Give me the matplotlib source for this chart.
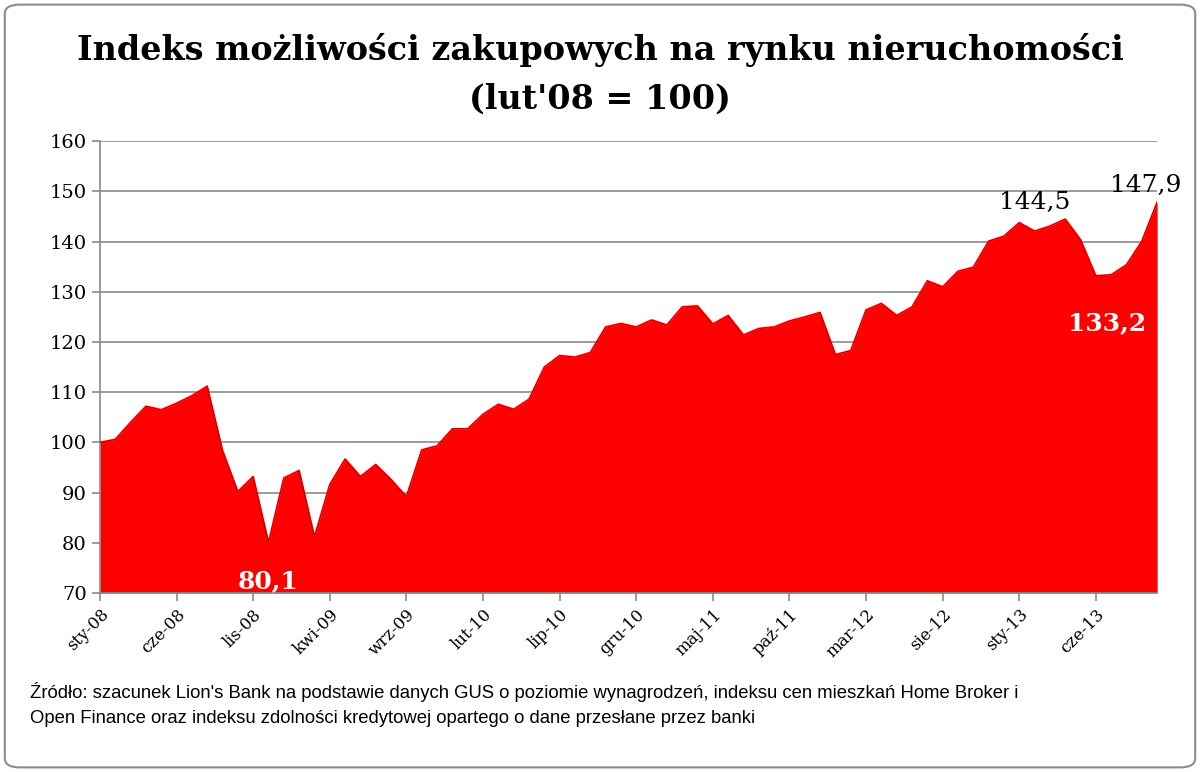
import matplotlib
matplotlib.use("Agg")
import matplotlib.pyplot as plt
from matplotlib.patches import FancyBboxPatch

# monthly index, sty-08 .. paź-13
VALUES = [
    100.0, 100.6, 104.0, 107.2, 106.5, 107.8, 109.3, 111.2, 98.4, 90.2,
    93.2, 80.1, 92.9, 94.4, 81.2, 91.6, 96.7, 93.2, 95.6, 92.6,
    89.2, 98.5, 99.3, 102.7, 102.7, 105.6, 107.6, 106.6, 108.6, 115.0,
    117.3, 117.0, 117.9, 123.0, 123.7, 123.0, 124.4, 123.4, 127.0, 127.2,
    123.6, 125.3, 121.4, 122.7, 123.0, 124.2, 125.0, 125.9, 117.5, 118.3,
    126.4, 127.7, 125.3, 127.0, 132.2, 131.0, 134.1, 134.9, 140.1, 141.1,
    143.8, 142.1, 143.1, 144.5, 140.4, 133.2, 133.4, 135.4, 140.1, 147.9,
]
TICK_LABELS = ["sty-08", "cze-08", "lis-08", "kwi-09", "wrz-09", "lut-10", "lip-10",
               "gru-10", "maj-11", "paź-11", "mar-12", "sie-12", "sty-13", "cze-13"]
TICK_STEP = 5
# (index, text, colour, offset in points)
ANNOTATIONS = [
    (11, "80,1", "white", (0, -28)),
    (63, "144,5", "black", (-22, 12)),
    (69, "147,9", "black", (-8, 12)),
    (65, "133,2", "white", (8, -34)),
]

fig = plt.figure(figsize=(12, 7.72), dpi=100)
fig.patches.append(FancyBboxPatch((0.004, 0.006), 0.992, 0.988,
                                  boxstyle="round,pad=0,rounding_size=0.012",
                                  transform=fig.transFigure, facecolor="white",
                                  edgecolor="#8c8c8c", linewidth=1.5, zorder=-5))
ax = fig.add_axes([0.0833, 0.232, 0.881, 0.585])
ax.set_facecolor("none")

x = list(range(len(VALUES)))
ax.fill_between(x, VALUES, 70, color="#ff0000", linewidth=0, zorder=2)
ax.plot(x, VALUES, color="#d40000", linewidth=1.2, zorder=3)

ax.set_xlim(0, len(VALUES) - 1)
ax.set_ylim(70, 160)
ax.set_yticks(range(70, 161, 10))
ax.yaxis.grid(True, color="#8a8a8a", linewidth=1.2, zorder=1)
ax.set_axisbelow(True)
ticks = list(range(0, len(VALUES), TICK_STEP))
ax.set_xticks(ticks)
ax.set_xticklabels(TICK_LABELS[:len(ticks)], rotation=45, ha="right",
                   rotation_mode="anchor", fontfamily="DejaVu Serif", fontsize=12)
for lab in ax.get_yticklabels():
    lab.set_fontfamily("DejaVu Serif")
    lab.set_fontsize(14)
for side in ("top", "right"):
    ax.spines[side].set_visible(False)
ax.spines["left"].set_color("#8a8a8a")
ax.spines["bottom"].set_color("#8a8a8a")
ax.spines["left"].set_linewidth(1.2)
ax.spines["bottom"].set_linewidth(1.2)
ax.tick_params(axis="both", color="#8a8a8a", width=1.2, length=6)
ax.tick_params(axis="x", direction="out")

for idx, text, colour, off in ANNOTATIONS:
    ax.annotate(text, (idx, VALUES[idx]), xytext=off, textcoords="offset points",
                ha="center", va="center", color=colour, fontsize=18,
                fontweight="bold" if colour == "white" else "normal",
                fontfamily="DejaVu Serif", zorder=5, annotation_clip=False)

fig.text(0.5, 0.935, "Indeks możliwości zakupowych na rynku nieruchomości",
         ha="center", va="center", fontsize=24, fontweight="bold",
         fontfamily="DejaVu Serif")
fig.text(0.5, 0.872, "(lut'08 = 100)", ha="center", va="center", fontsize=24,
         fontweight="bold", fontfamily="DejaVu Serif")
fig.text(0.025, 0.087,
         "Źródło: szacunek Lion's Bank na podstawie danych GUS o poziomie wynagrodzeń, "
         "indeksu cen mieszkań Home Broker i\nOpen Finance oraz indeksu zdolności "
         "kredytowej opartego o dane przesłane przez banki",
         ha="left", va="center", fontsize=13.3, linespacing=1.6,
         fontfamily="Liberation Sans")

fig.savefig("out.png", dpi=100)
